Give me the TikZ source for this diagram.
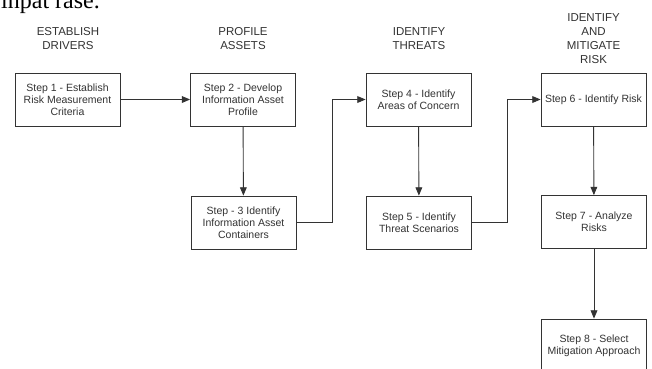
\documentclass[tikz,border=0pt]{standalone}
\usepackage{fontspec}
\setmainfont{Liberation Sans}
\newfontfamily\serifpart{Liberation Serif}
\usetikzlibrary{arrows,positioning}

\begin{document}
\begin{tikzpicture}[x=1pt,y=-1pt]
                \tikzstyle{every node}+=[inner sep=0pt]
                \tikzstyle{stepbox}=[draw=black!80, line width=0.9pt, minimum width=105pt, minimum height=53pt, align=center, text=black!80, font=\fontsize{10.5}{12}\selectfont]
                \tikzstyle{phase}=[align=center, text=black!80, font=\fontsize{11.5}{14}\selectfont]
                \tikzstyle{link}=[draw=black!80, line width=0.9pt, -triangle 45]
                \useasboundingbox (0,0) rectangle (652,368);
                \clip (0,0) rectangle (652,368);
                \fill [white] (0,0) rectangle (652,368);
                % cut-off line of the page above
                \node [anchor=base west, font=\serifpart\fontsize{24}{24}\selectfont] (pagetext) at (1,8) {inpat rase.};
                % phase headings
                \node [phase] (drivers) at (68,39) {ESTABLISH\\DRIVERS};
                \node [phase] (assets) at (243,39) {PROFILE\\ASSETS};
                \node [phase] (threats) at (419,39) {IDENTIFY\\THREATS};
                \node [phase] (risk) at (593.5,39) {IDENTIFY\\AND\\MITIGATE\\RISK};
                % steps
                \node [stepbox] (s1) at (67.5,99.5) {Step 1 - Establish\\Risk Measurement\\Criteria};
                \node [stepbox] (s2) at (243,99.5) {Step 2 - Develop\\Information Asset\\Profile};
                \node [stepbox] (s3) at (243.5,222.5) {Step - 3 Identify\\Information Asset\\Containers};
                \node [stepbox] (s4) at (418.5,99.5) {Step 4 - Identify\\Areas of Concern};
                \node [stepbox] (s5) at (419,222.5) {Step 5 - Identify\\Threat Scenarios};
                \node [stepbox] (s6) at (593.5,99.5) {Step 6 - Identify Risk};
                \node [stepbox] (s7) at (594,222) {Step 7 - Analyze\\Risks};
                \node [stepbox] (s8) at (594,345.5) {Step 8 - Select\\Mitigation Approach};
                % connectors
                \draw [link] (s1) -- (s2);
                \draw [link] (s2) -- (s3);
                \draw [link] (s3.east) -- ++(36,0) |- (s4.west);
                \draw [link] (s4) -- (s5);
                \draw [link] (s5.east) -- ++(35,0) |- (s6.west);
                \draw [link] (s6) -- (s7);
                \draw [link] (s7) -- (s8);
            \end{tikzpicture}
\end{document}
